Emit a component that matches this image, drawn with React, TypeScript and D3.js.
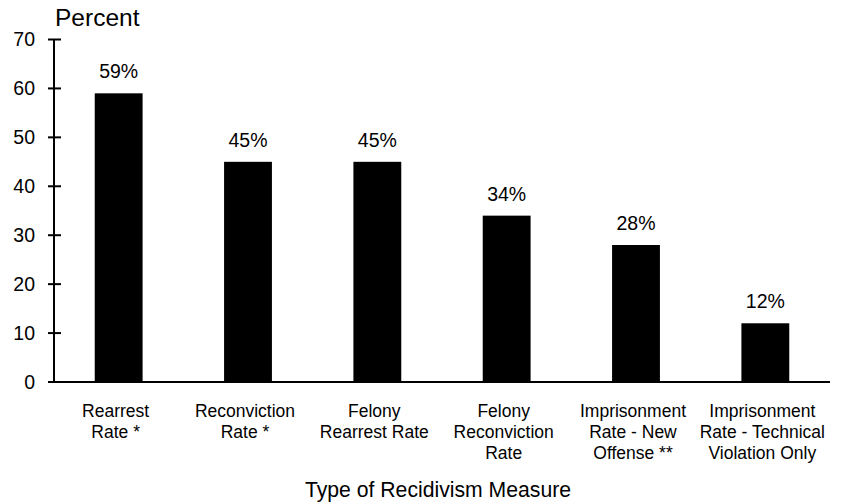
import React from "react";
import * as d3 from "d3";

const categories: string[][] = [
  ["Rearrest", "Rate *"],
  ["Reconviction", "Rate *"],
  ["Felony", "Rearrest Rate"],
  ["Felony", "Reconviction", "Rate"],
  ["Imprisonment", "Rate - New", "Offense **"],
  ["Imprisonment", "Rate - Technical", "Violation Only"],
];
const rates: number[] = [59, 45, 45, 34, 28, 12];
const yTicks: number[] = [0, 10, 20, 30, 40, 50, 60, 70];

const W = 852;
const H = 503;
const FONT = "'Liberation Sans', Arial, sans-serif";

export default function App() {
  const keys = categories.map((_, i) => String(i));
  const x = d3
    .scaleBand<string>()
    .domain(keys)
    .range([54, 830])
    .paddingInner(0.63)
    .paddingOuter(0.315);
  const y = d3.scaleLinear().domain([0, 70]).range([382, 39.5]);

  return (
    <div style={{ position: "fixed", left: 0, top: 0 }}>
      <svg width={W} height={H} style={{ display: "block", background: "#fff" }} fontFamily={FONT}>
        <rect width={W} height={H} fill="#fff" />
        {/* bars */}
        {rates.map((v, i) => (
          <rect
            key={`b${i}`}
            x={x(keys[i])}
            y={y(v)}
            width={x.bandwidth()}
            height={y(0) - y(v)}
            fill="#000"
          />
        ))}
        {/* value labels */}
        {rates.map((v, i) => (
          <text
            key={`v${i}`}
            x={(x(keys[i]) as number) + x.bandwidth() / 2}
            y={y(v) - 15}
            textAnchor="middle"
            fontSize={19.5}
            fill="#000"
          >
            {`${v}%`}
          </text>
        ))}
        {/* y axis */}
        <line x1={54} x2={54} y1={y(70)} y2={y(0)} stroke="#000" strokeWidth={2} />
        {yTicks.map((t) => (
          <g key={`t${t}`}>
            <line x1={48} x2={61} y1={y(t)} y2={y(t)} stroke="#000" strokeWidth={2} />
            <text x={35} y={y(t)} dy="0.35em" textAnchor="end" fontSize={19.5} fill="#000">
              {t}
            </text>
          </g>
        ))}
        {/* x axis */}
        <line x1={48} x2={830} y1={y(0)} y2={y(0)} stroke="#000" strokeWidth={2} />
        {/* category labels */}
        {categories.map((lines, i) => (
          <text
            key={`c${i}`}
            x={(x(keys[i]) as number) + x.bandwidth() / 2 - 3}
            y={417}
            textAnchor="middle"
            fontSize={17.5}
            fill="#000"
          >
            {lines.map((ln, j) => (
              <tspan key={j} x={(x(keys[i]) as number) + x.bandwidth() / 2 - 3} y={417 + j * 21}>
                {ln}
              </tspan>
            ))}
          </text>
        ))}
        {/* titles */}
        <text x={55} y={26} fontSize={24.5} fill="#000">
          Percent
        </text>
        <text x={438} y={497} textAnchor="middle" fontSize={21.2} fill="#000">
          Type of Recidivism Measure
        </text>
      </svg>
    </div>
  );
}
